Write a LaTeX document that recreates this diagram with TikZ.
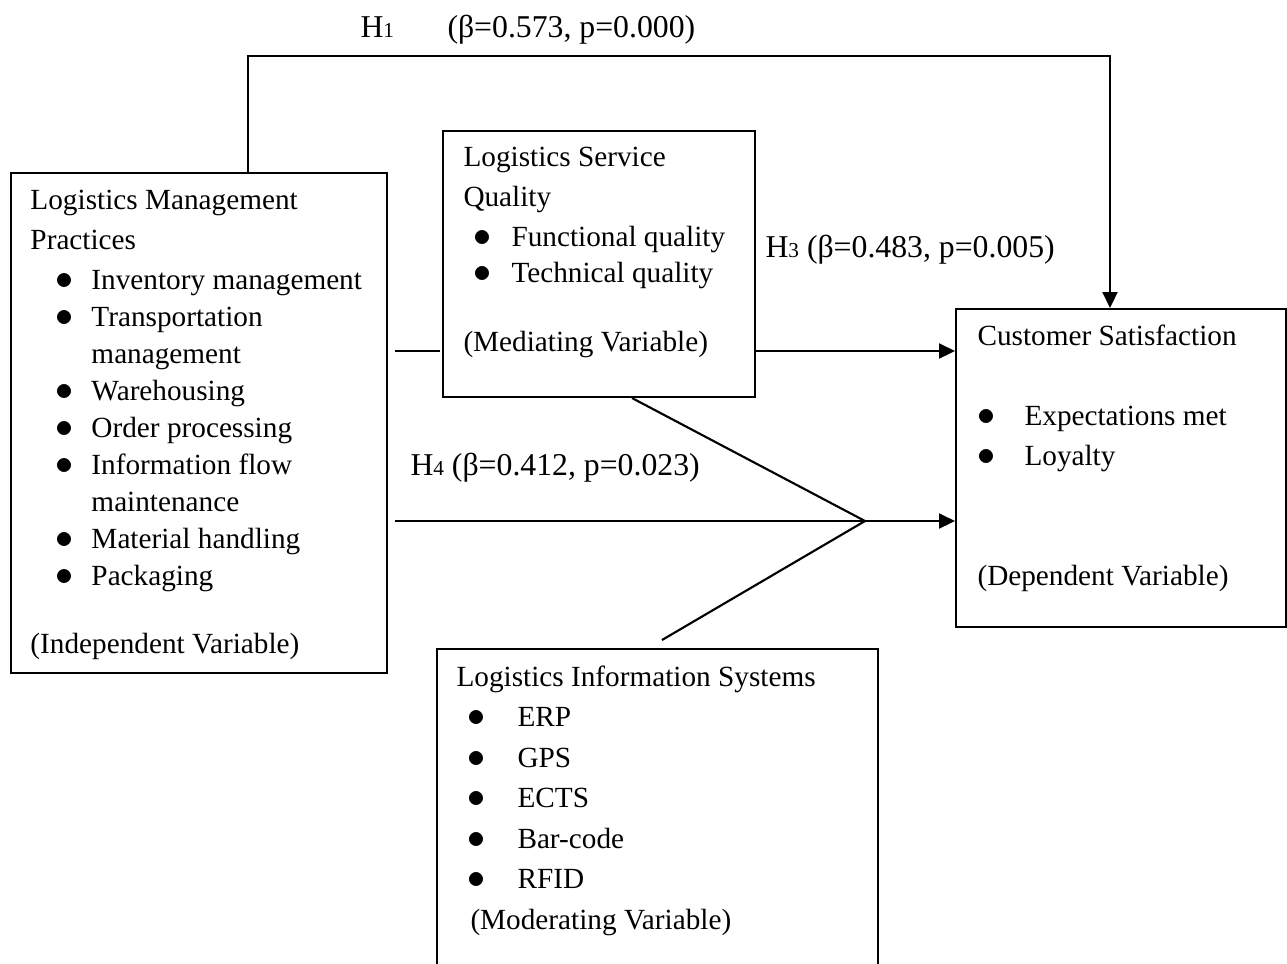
\documentclass[tikz,border=0pt]{standalone}
\usepackage{fontspec}
\setmainfont{Liberation Serif}
\usetikzlibrary{arrows.meta,calc,positioning}
\newlength\pxu
\setlength\pxu{0.4pt}
\newcommand\bul[3]{\hspace*{#1\pxu}\makebox[#2\pxu][l]{\kern-7\pxu\fontsize{14.5}{14.5}\selectfont$\bullet$}#3}
\newcommand\hyp[1]{H{\fontsize{8.5}{8.5}\selectfont #1}}

\tikzset{
  varbox/.style={draw, line width=0.8pt, inner sep=0pt, anchor=north west},
  boxtext/.style={inner sep=0pt, anchor=base west, font=\fontsize{11.7}{14.8}\selectfont},
  hyplabel/.style={boxtext, font=\fontsize{12.7}{15}\selectfont},
  link/.style={line width=0.85pt},
  arr/.style={link, -{Triangle[length=6.4pt,width=6pt]}},
}

\begin{document}
\begin{tikzpicture}[x=0.4pt,y=-0.4pt]
  \useasboundingbox (0,0) rectangle (1287,963);
  % Boxes
  \node[varbox, minimum width=376\pxu, minimum height=500\pxu] (lmp) at (10,172) {};
  \node[varbox, minimum width=312\pxu, minimum height=266\pxu] (lsq) at (442,130) {};
  \node[varbox, minimum width=330\pxu, minimum height=318\pxu] (cs) at (955,308) {};
  \node[varbox, minimum width=441\pxu, minimum height=360\pxu] (lis) at (436,648) {};
  % Independent variable
  \node[boxtext] (lmptext) at (30,209) {\parbox[t]{360\pxu}{\baselineskip=37\pxu
    Logistics Management\\[3\pxu]
    Practices\\[3\pxu]
    \bul{32}{29}{Inventory management}\\
    \bul{32}{29}{Transportation}\\
    \hspace*{61\pxu}management\\
    \bul{32}{29}{Warehousing}\\
    \bul{32}{29}{Order processing}\\
    \bul{32}{29}{Information flow}\\
    \hspace*{61\pxu}maintenance\\
    \bul{32}{29}{Material handling}\\
    \bul{32}{29}{Packaging}\\[31\pxu]
    (Independent Variable)}};
  % Mediating variable
  \node[boxtext] (lsqtext) at (463,166) {\parbox[t]{300\pxu}{\baselineskip=40\pxu
    Logistics Service\\
    Quality\\
    \bul{17}{31}{Functional quality}\\[-4\pxu]
    \bul{17}{31}{Technical quality}\\[29\pxu]
    (Mediating Variable)}};
  % Dependent variable
  \node[boxtext] (cstext) at (977,345) {\parbox[t]{300\pxu}{\baselineskip=40\pxu
    Customer Satisfaction\\[40\pxu]
    \bul{7}{40}{Expectations met}\\
    \bul{7}{40}{Loyalty}\\[80\pxu]
    (Dependent Variable)}};
  % Moderating variable
  \node[boxtext] (listext) at (456,686) {\parbox[t]{400\pxu}{\baselineskip=40.5\pxu
    Logistics Information Systems\\
    \bul{18}{43}{ERP}\\
    \bul{18}{43}{GPS}\\
    \bul{18}{43}{ECTS}\\
    \bul{18}{43}{Bar-code}\\
    \bul{18}{43}{RFID}\\
    \hspace*{14\pxu}(Moderating Variable)}};
  % Hypothesis labels
  \node[hyplabel] (h1) at (360,37) {\hyp{1}};
  \node[hyplabel] (h1val) at (447,37) {(β=0.573, p=0.000)};
  \node[hyplabel] (h3) at (765,257) {\hyp{3} (β=0.483, p=0.005)};
  \node[hyplabel] (h4) at (410,475) {\hyp{4} (β=0.412, p=0.023)};
  % H1 over the top
  \coordinate (h1from) at ([xshift=238\pxu]lmp.north west);
  \coordinate (h1to) at ([xshift=155\pxu]cs.north west);
  \coordinate (h1top) at (0,56);
  \draw[arr] (h1from) |- (h1top -| h1to) -- (h1to);
  % Through the mediator
  \coordinate (medrow) at ([yshift=47\pxu]lsq.south east);
  \draw[link] ($(medrow -| lmp.east)+(7,0)$) -- ($(medrow -| lsq.west)+(-2,0)$);
  \draw[arr] (medrow) -- (medrow -| cs.west);
  % Direct path H4
  \coordinate (dirrow) at ([yshift=107\pxu]cs.south west);
  \draw[arr] ($(dirrow -| lmp.east)+(7,0)$) -- (dirrow);
  % Moderator lines
  \coordinate (join) at ([xshift=-90\pxu]dirrow);
  \draw[link] ([xshift=190\pxu]lsq.south west) -- (join)
    -- ([xshift=226\pxu,yshift=8\pxu]lis.north west);
\end{tikzpicture}
\end{document}
